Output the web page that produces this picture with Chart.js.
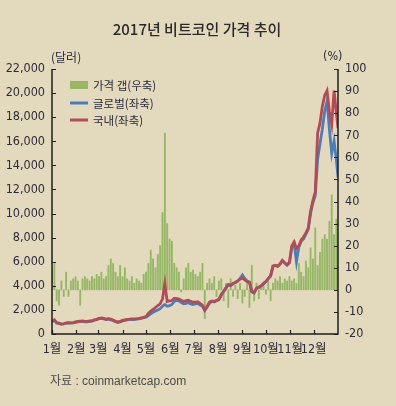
<!DOCTYPE html>
<html>
<head>
<meta charset="utf-8">
<script src="https://cdn.jsdelivr.net/npm/chart.js@4.4.0/dist/chart.umd.min.js"></script>
<style>
html, body { margin: 0; padding: 0; background: #e3dabe; }
#wrap { width: 396px; height: 406px; }
</style>
</head>
<body>
<div id="wrap"><canvas id="btc_chart" width="396" height="406"></canvas></div>
<script>
// day of year (0 = Jan 1)
var days = [0, 3, 6, 9, 12, 15, 18, 21, 24, 27, 30, 33, 36, 39, 42, 45, 48, 51, 54, 57,
    60, 63, 66, 69, 72, 75, 78, 81, 84, 87, 90, 93, 96, 99, 102, 105, 108, 111, 114, 117,
    120, 123, 126, 129, 132, 135, 138, 141, 144, 147, 150, 153, 156, 159, 162, 165, 168, 171, 174, 177,
    180, 183, 186, 189, 192, 195, 198, 201, 204, 207, 210, 213, 216, 219, 222, 225, 228, 231, 234, 237,
    240, 243, 246, 249, 252, 255, 258, 261, 264, 267, 270, 273, 276, 279, 282, 285, 288, 291, 294, 297,
    300, 303, 306, 309, 312, 315, 318, 321, 324, 327, 330, 333, 336, 339, 342, 345, 348, 351, 354, 357,
    360, 363, 365];

// 글로벌 (USD)
var globalPrice = [1000, 1130, 900, 880, 800, 830, 890, 920, 900, 920, 960, 1010, 1030, 1050, 1000, 1010, 1050, 1060, 1140, 1190,
    1270, 1280, 1250, 1190, 1230, 1180, 1100, 1030, 950, 1000, 1090, 1140, 1180, 1190, 1200, 1200, 1230, 1260, 1300, 1350,
    1400, 1520, 1680, 1800, 1900, 2000, 2100, 2300, 2450, 2300, 2350, 2450, 2700, 2800, 2750, 2600, 2500, 2550, 2600, 2500,
    2450, 2500, 2550, 2400, 2300, 1950, 2250, 2550, 2700, 2650, 2750, 2850, 3200, 3500, 3800, 4100, 4000, 4150, 4300, 4400,
    4600, 4900, 4600, 4400, 4300, 3500, 3400, 3800, 3850, 4000, 4150, 4350, 4600, 4800, 5600, 5700, 5600, 5800, 6100, 5900,
    5700, 5900, 7200, 7500, 6000, 7200, 7700, 7900, 8300, 8700, 10000, 10900, 11500, 14500, 15800, 17000, 18500, 19300, 17000, 15000,
    16000, 14400, 13000];

// 국내 (USD 환산)
var koreaPrice = [1050, 1170, 950, 900, 820, 850, 920, 950, 930, 950, 1000, 1040, 1060, 1080, 1050, 1050, 1080, 1090, 1170, 1220,
    1300, 1330, 1300, 1230, 1270, 1230, 1160, 1060, 1000, 1050, 1130, 1180, 1220, 1230, 1250, 1250, 1270, 1300, 1340, 1380,
    1450, 1700, 1900, 2050, 2200, 2350, 2500, 2900, 4200, 2700, 2750, 2780, 2950, 2960, 2900, 2800, 2700, 2780, 2800, 2700,
    2650, 2650, 2680, 2550, 2400, 2000, 2300, 2650, 2750, 2700, 2800, 2880, 3300, 3550, 3850, 4100, 4050, 4200, 4250, 4400,
    4550, 4650, 4500, 4350, 4300, 3500, 3450, 3800, 3900, 4000, 4200, 4350, 4600, 4850, 5650, 5700, 5650, 5800, 6100, 5900,
    5750, 5950, 7300, 7650, 7100, 7300, 7800, 8050, 8400, 8800, 10200, 11100, 11800, 16700, 17500, 18900, 19800, 20200, 18500, 17400,
    20200, 18300, 17100];

// 가격 갭 (%)
var priceGap = [10, 12, -5, -7, 4, -3, 8, -3, 4, 5, 6, 4, -7, 5, 6, 5, 4, 6, 5, 7,
    6, 8, 5, 6, 11, 14, 12, 8, 6, 11, 6, 10, 5, 4, 6, 3, 5, 4, 3, 7,
    8, 12, 18, 14, 10, 16, 20, 35, 71, 30, 23, 22, 12, 10, 8, -1, 5, 10, 12, 8,
    9, 7, 6, 8, 12, -13, 3, 5, 3, 6, -3, 4, 5, -5, 3, -8, 5, -3, 2, -4,
    3, -6, -3, 4, -8, 11, -5, 3, -4, 2, 3, -2, 4, -5, 3, 5, 4, 6, 3, 5,
    4, 6, 4, 5, 3, 12, 8, 6, 13, 10, 19, 14, 28, 11, 17, 23, 25, 23, 31, 43,
    25, 32, 30];

var monthStarts = [0, 31, 59, 90, 120, 151, 181, 212, 243, 273, 304, 334];
var monthLabels = ['1월', '2월', '3월', '4월', '5월', '6월', '7월', '8월', '9월', '10월', '11월', '12월'];

var numFont = '"Liberation Sans Narrow", "DejaVu Sans Condensed", "Noto Sans CJK KR", sans-serif';
var korFont = '"Noto Sans CJK KR", sans-serif';
var textColor = '#2b2b3c';

function toPoints(vals) {
    return vals.map(function (v, i) { return { x: days[i], y: v }; });
}

// background, axis lines, inward ticks, title, legend, source
var extrasPlugin = {
    id: 'extras',
    beforeDraw: function (chart) {
        var ctx = chart.ctx;
        ctx.save();
        ctx.fillStyle = '#e3dabe';
        ctx.fillRect(0, 0, chart.width, chart.height);
        ctx.restore();
    },
    afterDatasetsDraw: function (chart) {
        var ctx = chart.ctx;
        var a = chart.chartArea;
        var sx = chart.scales.x, sy = chart.scales.y, sy2 = chart.scales.y2;
        ctx.save();
        ctx.strokeStyle = '#1e1e1e';
        ctx.lineWidth = 1.5;
        ctx.beginPath();
        ctx.moveTo(a.left, a.top); ctx.lineTo(a.left, a.bottom); ctx.lineTo(a.right, a.bottom); ctx.lineTo(a.right, a.top);
        ctx.stroke();
        ctx.lineWidth = 1.2;
        ctx.beginPath();
        sy.ticks.forEach(function (t) {
            var y = Math.round(sy.getPixelForValue(t.value)) + 0.5;
            ctx.moveTo(a.left, y); ctx.lineTo(a.left + 4, y);
        });
        sy2.ticks.forEach(function (t) {
            var y = Math.round(sy2.getPixelForValue(t.value)) + 0.5;
            ctx.moveTo(a.right, y); ctx.lineTo(a.right - 4, y);
        });
        sx.ticks.forEach(function (t) {
            var x = Math.round(sx.getPixelForValue(t.value)) + 0.5;
            ctx.moveTo(x, a.bottom); ctx.lineTo(x, a.bottom - 4);
        });
        ctx.stroke();
        ctx.restore();
    },
    afterDraw: function (chart) {
        var ctx = chart.ctx;
        ctx.save();
        ctx.fillStyle = '#2a2a2a';
        ctx.textBaseline = 'middle';
        ctx.textAlign = 'center';
        ctx.font = '500 15px ' + korFont;
        ctx.fillText('2017년 비트코인 가격 추이', 197, 29);

        ctx.fillStyle = textColor;
        ctx.font = '12px ' + korFont;
        ctx.textAlign = 'left';
        ctx.fillText('(달러)', 51, 57);
        ctx.font = '12.5px ' + numFont;
        ctx.fillText('(%)', 323, 57);

        // legend
        ctx.fillStyle = '#95b865';
        ctx.fillRect(70, 81, 18, 8);
        ctx.lineWidth = 3;
        ctx.strokeStyle = '#4a7ebb';
        ctx.beginPath(); ctx.moveTo(70, 103); ctx.lineTo(88, 103); ctx.stroke();
        ctx.strokeStyle = '#b54a55';
        ctx.beginPath(); ctx.moveTo(70, 120); ctx.lineTo(88, 120); ctx.stroke();
        ctx.fillStyle = textColor;
        ctx.font = '11.5px ' + korFont;
        ctx.fillText('가격 갭(우축)', 93, 86);
        ctx.fillText('글로벌(좌축)', 93, 104);
        ctx.fillText('국내(좌축)', 93, 121);

        // source
        ctx.fillStyle = '#4a4a4a';
        ctx.font = '12px "Liberation Sans", ' + korFont;
        ctx.fillText('자료 : coinmarketcap.com', 50, 382);
        ctx.restore();
    }
};

var ctx = document.getElementById('btc_chart');
var btc_chart = new Chart(ctx, {
    type: 'line',
    data: {
        datasets: [
            {
                type: 'line',
                label: '국내(좌축)',
                data: toPoints(koreaPrice),
                yAxisID: 'y',
                borderColor: '#b54a55',
                borderWidth: 2.8,
                pointRadius: 0,
                tension: 0,
                order: 1
            },
            {
                type: 'line',
                label: '글로벌(좌축)',
                data: toPoints(globalPrice),
                yAxisID: 'y',
                borderColor: '#4a7ebb',
                borderWidth: 2.8,
                pointRadius: 0,
                tension: 0,
                order: 2
            },
            {
                type: 'bar',
                label: '가격 갭(우축)',
                data: toPoints(priceGap),
                yAxisID: 'y2',
                backgroundColor: 'rgba(138,178,88,0.9)',
                barThickness: 1.2,
                order: 3
            }
        ]
    },
    options: {
        responsive: false,
        animation: false,
        devicePixelRatio: 1,
        layout: { padding: { top: 69, left: 0, right: 0, bottom: 0 } },
        plugins: { legend: { display: false }, title: { display: false }, tooltip: { enabled: false } },
        scales: {
            x: {
                type: 'linear',
                min: 0,
                max: 365,
                offset: false,
                grid: { display: false, drawTicks: false },
                border: { display: false },
                afterBuildTicks: function (scale) {
                    scale.ticks = monthStarts.map(function (v) { return { value: v }; });
                },
                afterFit: function (scale) { scale.height = 72; },
                ticks: {
                    autoSkip: false,
                    maxRotation: 0,
                    padding: 8,
                    color: textColor,
                    font: { family: numFont, size: 12.5 },
                    callback: function (value) { return monthLabels[monthStarts.indexOf(value)]; }
                }
            },
            y: {
                position: 'left',
                min: 0,
                max: 22000,
                grid: { display: false, drawTicks: false },
                border: { display: false },
                afterFit: function (scale) { scale.width = 52; },
                ticks: {
                    stepSize: 2000,
                    padding: 7,
                    color: textColor,
                    font: { family: numFont, size: 12.5 },
                    callback: function (value) { return value.toLocaleString('en-US'); }
                }
            },
            y2: {
                position: 'right',
                min: -20,
                max: 100,
                grid: { display: false, drawTicks: false },
                border: { display: false },
                afterFit: function (scale) { scale.width = 58; },
                ticks: {
                    stepSize: 10,
                    padding: 7,
                    color: textColor,
                    font: { family: numFont, size: 12.5 }
                }
            }
        }
    },
    plugins: [extrasPlugin]
});
</script>
</body>
</html>
